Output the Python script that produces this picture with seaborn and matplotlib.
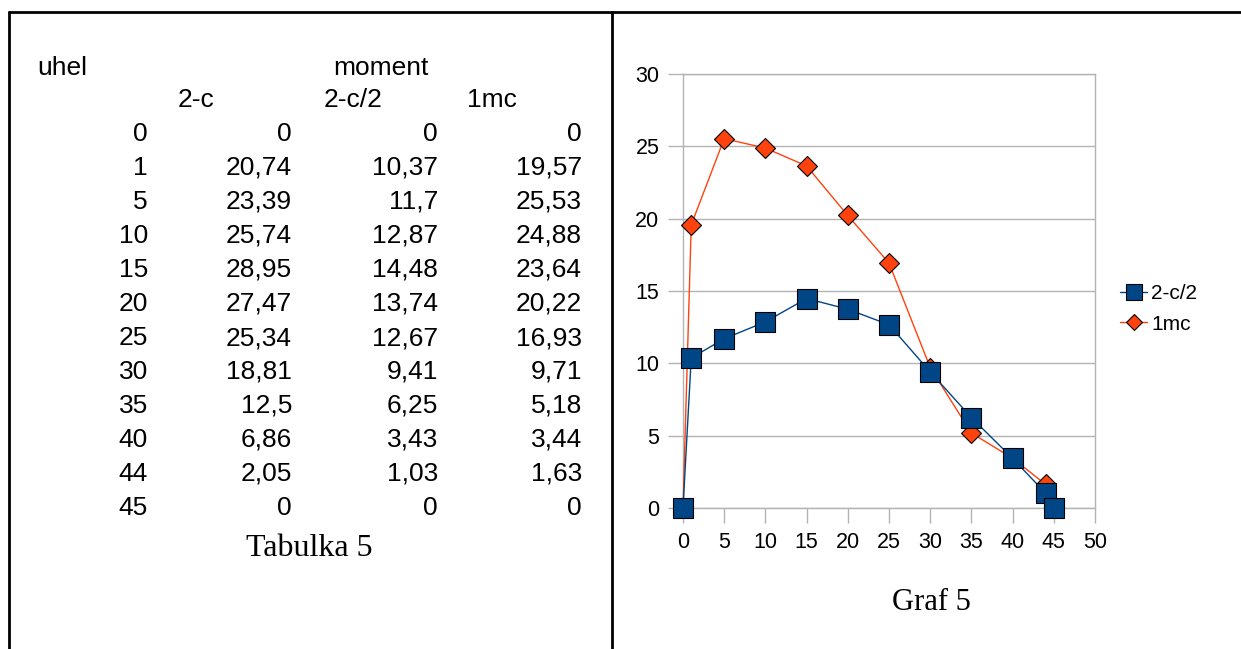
import matplotlib
matplotlib.use("Agg")
import matplotlib.pyplot as plt
import seaborn as sns
import numpy as np
from matplotlib.lines import Line2D

# ---- data ----
uhel = [0, 1, 5, 10, 15, 20, 25, 30, 35, 40, 44, 45]
moment_2c = [0, 20.74, 23.39, 25.74, 28.95, 27.47, 25.34, 18.81, 12.5, 6.86, 2.05, 0]
moment_2c2 = [0, 10.37, 11.7, 12.87, 14.48, 13.74, 12.67, 9.41, 6.25, 3.43, 1.03, 0]
moment_1mc = [0, 19.57, 25.53, 24.88, 23.64, 20.22, 16.93, 9.71, 5.18, 3.44, 1.63, 0]
col_headers = ["2-c", "2-c/2", "1mc"]
xticks = [0, 5, 10, 15, 20, 25, 30, 35, 40, 45, 50]
yticks = [0, 5, 10, 15, 20, 25, 30]

sns.set_theme(style="white")
plt.rcParams['font.family'] = ['Liberation Sans', 'DejaVu Sans']
plt.rcParams['text.color'] = 'black'

W, H = 1241, 649
fig = plt.figure(figsize=(W / 100, H / 100), dpi=100)

def fx(px):
    return px / W

def fy(py):
    return 1 - py / H

# ---- outer frame ----
for (x0, y0, x1, y1) in [(9, 12, W, 12), (9, 12, 9, H), (612, 12, 612, H)]:
    fig.add_artist(Line2D([fx(x0), fx(x1)], [fy(y0), fy(y1)], color='black',
                          linewidth=2.0, transform=fig.transFigure))

# ---- table ----
fs_tab = 19
fig.text(fx(37), fy(68), "uhel", ha='left', va='center', fontsize=fs_tab)
fig.text(fx(333), fy(68), "moment", ha='left', va='center', fontsize=fs_tab)
for lx, h in zip([178, 324, 467], col_headers):
    fig.text(fx(lx), fy(100), h, ha='left', va='center', fontsize=fs_tab)

def fmt(v):
    return f"{v:g}".replace('.', ',')

col_right = [148, 292, 438, 582]
for i in range(len(uhel)):
    ry = 134 + i * 34
    for cx, arr in zip(col_right, [uhel, moment_2c, moment_2c2, moment_1mc]):
        fig.text(fx(cx), fy(ry), fmt(arr[i]), ha='right', va='center', fontsize=fs_tab)

fig.text(fx(309), fy(548), "Tabulka 5", ha='center', va='center', fontsize=23,
         family=['Liberation Serif', 'DejaVu Serif'])
fig.text(fx(931), fy(602), "Graf 5", ha='center', va='center', fontsize=22,
         family=['Liberation Serif', 'DejaVu Serif'])

# ---- chart ----
ax = fig.add_axes([fx(683), fy(508), fx(1095) - fx(683), fy(74) - fy(508)])
blue = '#004586'
orange = '#ff420e'
sns.lineplot(x=uhel, y=moment_1mc, ax=ax, color=orange, marker='D', markersize=10,
             markeredgecolor='black', markeredgewidth=0.8, linewidth=1.0, zorder=3,
             label='1mc', clip_on=False)
sns.lineplot(x=uhel, y=moment_2c2, ax=ax, color=blue, marker='s', markersize=14,
             markeredgecolor='black', markeredgewidth=0.8, linewidth=1.0, zorder=4,
             label='2-c/2', clip_on=False)
ax.set_xlim(0, 50)
ax.set_ylim(0, 30)
ax.set_xticks(xticks)
ax.set_yticks(yticks)
ax.grid(axis='y', color='#b3b3b3', linewidth=1.0)
ax.grid(axis='x', visible=False)
ax.set_axisbelow(True)
for s in ax.spines.values():
    s.set_color('#b3b3b3')
    s.set_linewidth(1.0)
    s.set_visible(True)
ax.tick_params(axis='both', which='both', direction='out', length=11, width=1,
               color='#b3b3b3', labelsize=15.5, labelcolor='black', pad=6,
               bottom=True, left=True)

handles, labels = ax.get_legend_handles_labels()
order = [labels.index('2-c/2'), labels.index('1mc')]
ax.get_legend().remove()
fig.legend([handles[i] for i in order], [labels[i] for i in order],
           loc='center left', bbox_to_anchor=(fx(1120), fy(309)), frameon=False,
           fontsize=15, markerscale=0.8, handlelength=1.3, handletextpad=0.2,
           labelspacing=0.55, borderaxespad=0, borderpad=0)

fig.savefig("out.png", dpi=100)
